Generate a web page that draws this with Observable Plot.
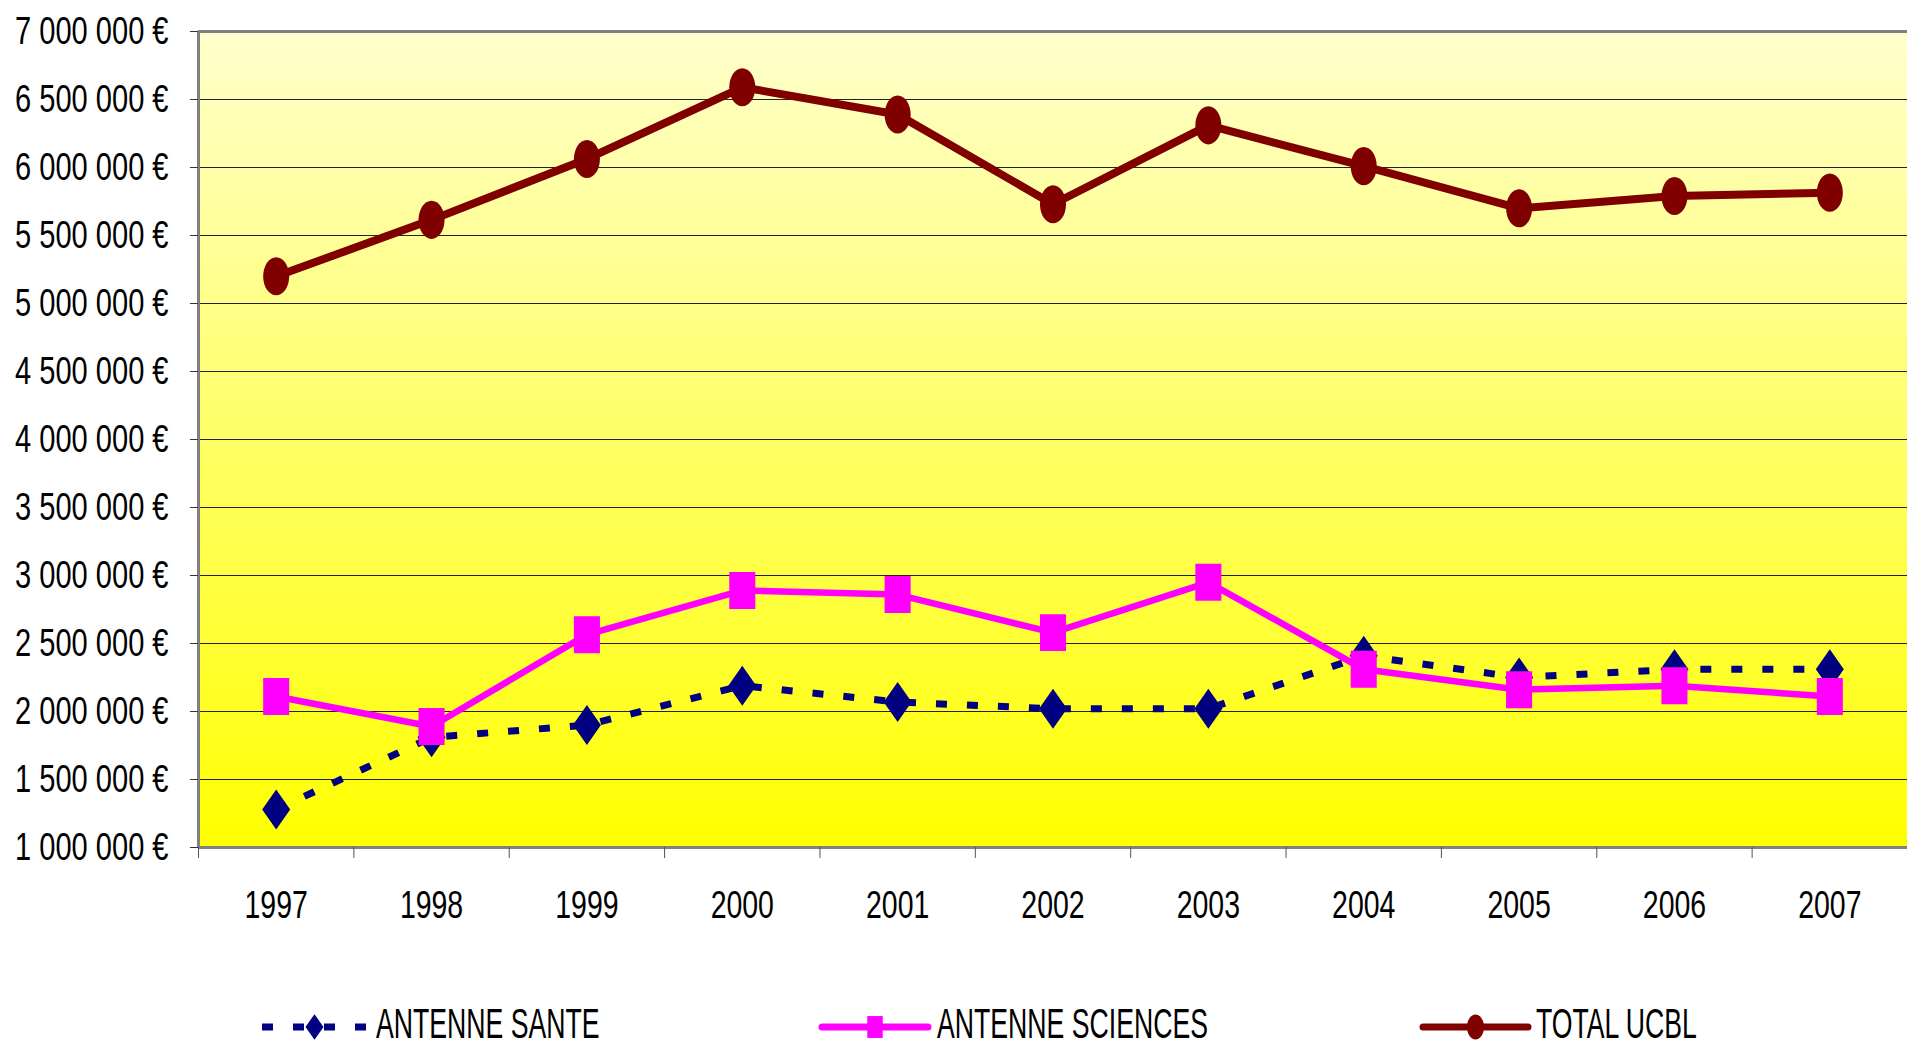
<!DOCTYPE html>
<html><head><meta charset="utf-8">
<script src="https://cdn.jsdelivr.net/npm/d3@7"></script>
<script src="https://cdn.jsdelivr.net/npm/@observablehq/plot@0.6"></script>
<style>
html,body{margin:0;padding:0;background:#fff;overflow:hidden;}
#chart svg{display:block;}
</style></head><body><div id="chart"></div><div id="legend"></div><script>
// ---- data ----
const years = [1997, 1998, 1999, 2000, 2001, 2002, 2003, 2004, 2005, 2006, 2007];
const yearLabels = ["1997", "1998", "1999", "2000", "2001", "2002", "2003", "2004", "2005", "2006", "2007"];
const seriesNames = ["ANTENNE SANTE", "ANTENNE SCIENCES", "TOTAL UCBL"];
const santeValues    = [1280000, 1810000, 1900000, 2190000, 2070000, 2020000, 2020000, 2410000, 2250000, 2310000, 2310000];
const sciencesValues = [2110000, 1890000, 2565000, 2890000, 2860000, 2580000, 2950000, 2310000, 2160000, 2190000, 2110000];
const totalValues    = [5200000, 5615000, 6063000, 6590000, 6390000, 5730000, 6310000, 6010000, 5700000, 5790000, 5815000];
const yTicks = [1000000, 1500000, 2000000, 2500000, 3000000, 3500000, 4000000, 4500000, 5000000, 5500000, 6000000, 6500000, 7000000];

// ---- build ----
const rows = (vals, s) => years.map((y, i) => ({year: y, value: vals[i], series: s}));
const santeRows = rows(santeValues, seriesNames[0]);
const sciRows = rows(sciencesValues, seriesNames[1]);
const totalRows = rows(totalValues, seriesNames[2]);
const boundaries = [...years.map(y => y - 0.5), years[years.length - 1] + 0.5];

const loc = d3.formatLocale({decimal: ",", thousands: " ", grouping: [3], currency: ["", " €"]});
const fmt = loc.format("$,.0f");

const diamondTall = {draw(ctx, size) { const r = Math.sqrt(size / Math.PI); const w = r, h = r * 1.43;
  ctx.moveTo(0, -h); ctx.lineTo(w, 0); ctx.lineTo(0, h); ctx.lineTo(-w, 0); ctx.closePath(); }};
const rectTall = {draw(ctx, size) { const r = Math.sqrt(size / Math.PI); const w = r * 0.93, h = r * 1.32;
  ctx.moveTo(-w, -h); ctx.lineTo(w, -h); ctx.lineTo(w, h); ctx.lineTo(-w, h); ctx.closePath(); }};
const ellipseTall = {draw(ctx, size) { const r = Math.sqrt(size / Math.PI); const a = r * 0.93, b = r * 1.36, k = 0.5523;
  ctx.moveTo(a, 0);
  ctx.bezierCurveTo(a, b * k, a * k, b, 0, b);
  ctx.bezierCurveTo(-a * k, b, -a, b * k, -a, 0);
  ctx.bezierCurveTo(-a, -b * k, -a * k, -b, 0, -b);
  ctx.bezierCurveTo(a * k, -b, a, -b * k, a, 0); ctx.closePath(); }};

const W = 1907, H = 980;
const chart = Plot.plot({
  width: W, height: H,
  marginLeft: 198, marginRight: 0, marginTop: 31, marginBottom: 133,
  style: {fontFamily: "'Liberation Sans', Arial, sans-serif", fontSize: "39px", color: "#000", background: "#fff"},
  x: {type: "linear", domain: [boundaries[0], boundaries[boundaries.length - 1]]},
  y: {domain: [yTicks[0], yTicks[yTicks.length - 1]]},
  marks: [
    Plot.frame({fill: "url(#bgGrad)", stroke: "none"}),
    Plot.ruleY(yTicks.slice(1, -1), {stroke: "#222", strokeWidth: 1.2}),
    Plot.ruleY([yTicks[yTicks.length - 1], yTicks[0]], {stroke: "#808080", strokeWidth: 3}),
    Plot.ruleX([boundaries[0]], {stroke: "#808080", strokeWidth: 3}),
    Plot.axisY(yTicks, {label: null, tickSize: 8, tickPadding: 22, tickFormat: fmt, stroke: "#333", fill: "#000"}),
    Plot.axisX(boundaries, {label: null, tickSize: 11, tickFormat: () => "", stroke: "#555"}),
    Plot.axisX(years, {label: null, tickSize: 0, tickPadding: 43, tickFormat: d => yearLabels[years.indexOf(d)], fill: "#000"}),
    Plot.line(santeRows, {x: "year", y: "value", stroke: "#000080", strokeWidth: 7, strokeDasharray: "11 20", strokeLinecap: "butt"}),
    Plot.dot(santeRows, {x: "year", y: "value", symbol: diamondTall, r: 14, fill: "#000080"}),
    Plot.line(sciRows, {x: "year", y: "value", stroke: "#FF00FF", strokeWidth: 6.5, strokeLinejoin: "round"}),
    Plot.dot(sciRows, {x: "year", y: "value", symbol: rectTall, r: 14, fill: "#FF00FF"}),
    Plot.line(totalRows, {x: "year", y: "value", stroke: "#800000", strokeWidth: 8, strokeLinejoin: "round"}),
    Plot.dot(totalRows, {x: "year", y: "value", symbol: ellipseTall, r: 14, fill: "#800000"})
  ]
});
document.getElementById("chart").appendChild(chart);

const svg = d3.select(chart);
const grad = svg.insert("defs", ":first-child").append("linearGradient")
  .attr("id", "bgGrad").attr("x1", 0).attr("y1", 0).attr("x2", 0).attr("y2", 1);
grad.append("stop").attr("offset", "0%").attr("stop-color", "#FFFFCC");
grad.append("stop").attr("offset", "100%").attr("stop-color", "#FFFF00");

function squeeze(sel, sx) {
  sel.each(function() {
    let t = this.getAttribute("transform") || "";
    const xa = this.getAttribute("x");
    if (xa != null && !isNaN(+xa)) { t += ` translate(${+xa},0)`; this.removeAttribute("x"); }
    this.setAttribute("transform", `${t} scale(${sx},1)`);
  });
}
squeeze(svg.selectAll("g[aria-label='y-axis tick label'] text"), 0.745);
squeeze(svg.selectAll("g[aria-label='x-axis tick label'] text"), 0.73);

// ---- legend ----
const LH = 1043 - H;
const lg = d3.select("#legend").append("svg").attr("width", W).attr("height", LH).style("display", "block")
  .style("font-family", "'Liberation Sans', Arial, sans-serif");
const items = [
  {name: seriesNames[0], color: "#000080", x0: 262, x1: 367, tx: 376, dash: "11 20", cap: "butt", sym: diamondTall, r: 9},
  {name: seriesNames[1], color: "#FF00FF", x0: 822, x1: 928, tx: 937, dash: null, cap: "round", sym: rectTall, r: 8.3},
  {name: seriesNames[2], color: "#800000", x0: 1423, x1: 1528, tx: 1536, dash: null, cap: "round", sym: ellipseTall, r: 9.2}
];
const cy = 47;
items.forEach(it => {
  lg.append("line").attr("x1", it.x0).attr("x2", it.x1).attr("y1", cy).attr("y2", cy)
    .attr("stroke", it.color).attr("stroke-width", 7).attr("stroke-linecap", it.cap)
    .attr("stroke-dasharray", it.dash);
  lg.append("path").attr("d", d3.symbol(it.sym, Math.PI * it.r * it.r)())
    .attr("transform", `translate(${(it.x0 + it.x1) / 2},${cy})`).attr("fill", it.color);
  lg.append("text").attr("transform", `translate(${it.tx},58) scale(0.62,1)`)
    .attr("font-size", 43).attr("fill", "#000").text(it.name);
});
</script></body></html>
